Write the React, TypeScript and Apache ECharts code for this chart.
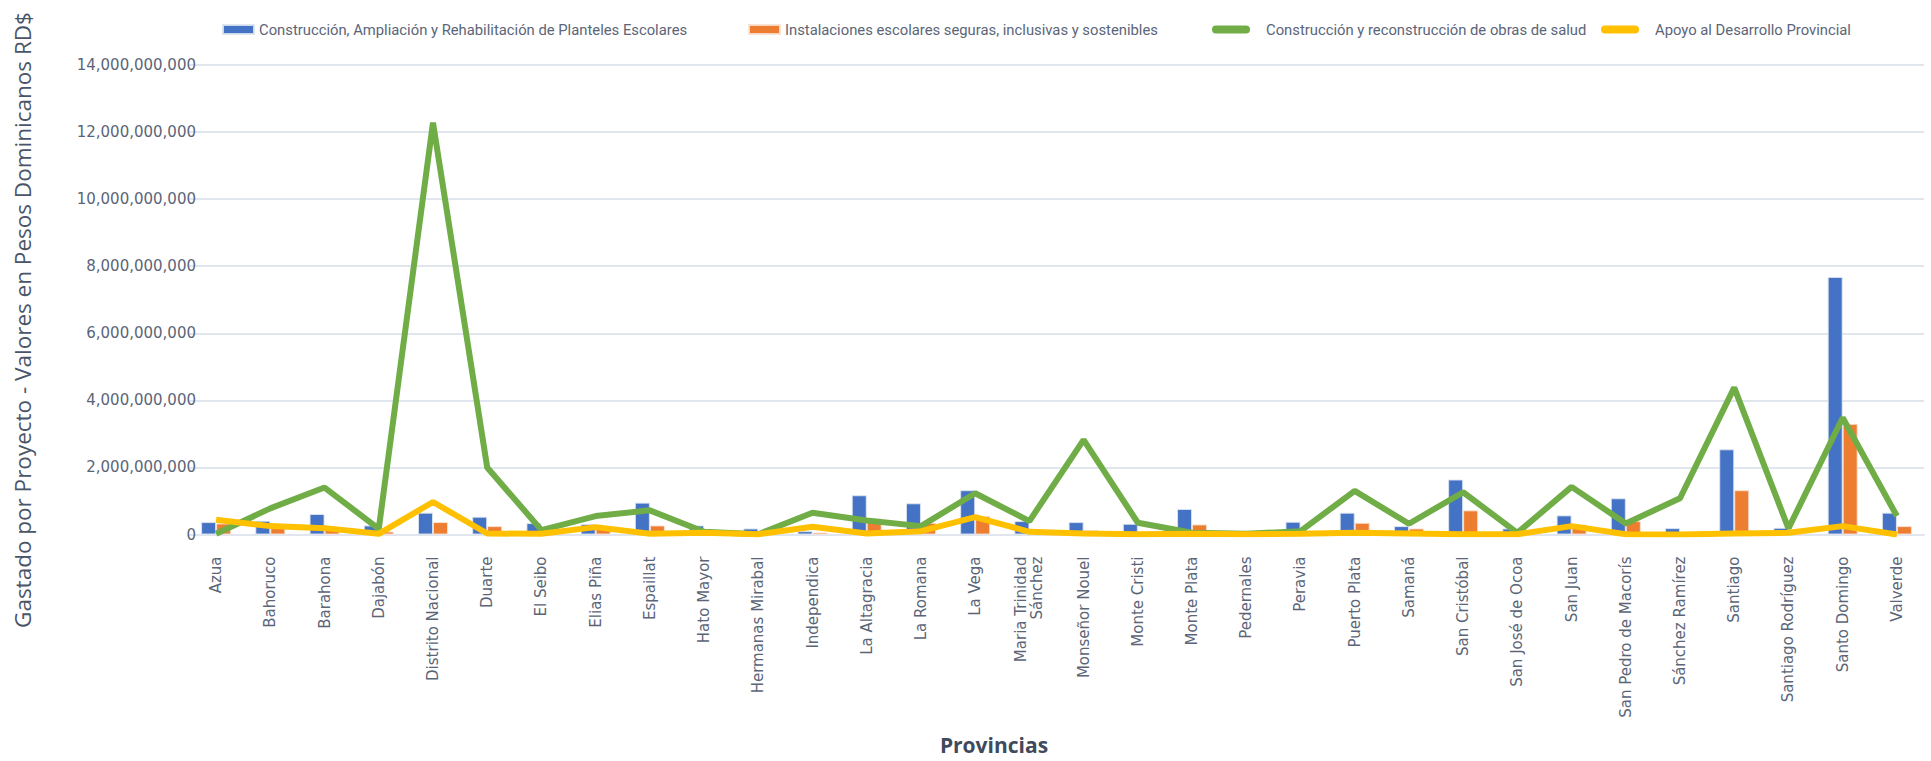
import React, { useEffect, useRef } from "react";
import * as echarts from "echarts";

const categories = [
  "Azua", "Bahoruco", "Barahona", "Dajabón", "Distrito Nacional", "Duarte", "El Seibo", "Elias Piña",
  "Espaillat", "Hato Mayor", "Hermanas Mirabal", "Independica", "La Altagracia", "La Romana", "La Vega",
  "Maria Trinidad\nSánchez", "Monseñor Nouel", "Monte Cristi", "Monte Plata", "Pedernales", "Peravia",
  "Puerto Plata", "Samaná", "San Cristóbal", "San José de Ocoa", "San Juan", "San Pedro de Macorís",
  "Sánchez Ramírez", "Santiago", "Santiago Rodríguez", "Santo Domingo", "Valverde",
];

const seriesNames = [
  "Construcción, Ampliación y Rehabilitación de Planteles Escolares",
  "Instalaciones escolares seguras, inclusivas y sostenibles",
  "Construcción y reconstrucción de obras de salud",
  "Apoyo al Desarrollo Provincial",
];

const planteles = [
  370e6, 410e6, 610e6, 270e6, 650e6, 530e6, 340e6, 310e6, 950e6, 270e6, 180e6, 100e6, 1170e6, 930e6, 1320e6,
  400e6, 370e6, 320e6, 760e6, 10e6, 380e6, 650e6, 250e6, 1640e6, 180e6, 570e6, 1080e6, 190e6, 2540e6, 200e6,
  7680e6, 650e6,
];
const instalaciones = [
  330e6, 250e6, 160e6, 90e6, 370e6, 250e6, 50e6, 170e6, 270e6, 40e6, 10e6, 60e6, 470e6, 350e6, 550e6,
  50e6, 130e6, 20e6, 300e6, 0, 30e6, 350e6, 180e6, 720e6, 20e6, 300e6, 400e6, 0, 1320e6, 10e6,
  3300e6, 250e6,
];
const salud = [
  20e6, 780e6, 1400e6, 170e6, 12280e6, 2000e6, 130e6, 550e6, 720e6, 80e6, 10e6, 650e6, 420e6, 250e6, 1230e6,
  400e6, 2820e6, 350e6, 50e6, 20e6, 100e6, 1300e6, 320e6, 1260e6, 50e6, 1420e6, 330e6, 1080e6, 4380e6, 180e6,
  3480e6, 550e6,
];
const desarrollo = [
  440e6, 250e6, 190e6, 20e6, 970e6, 30e6, 20e6, 220e6, 20e6, 50e6, 10e6, 230e6, 30e6, 100e6, 520e6,
  80e6, 30e6, 10e6, 20e6, 10e6, 20e6, 50e6, 30e6, 10e6, 10e6, 250e6, 10e6, 0, 30e6, 50e6,
  250e6, 0,
];

const yTicks = { min: 0, max: 14000000000, interval: 2000000000 };

const COLORS = ["#4472C4", "#ED7D31", "#70AD47", "#FFC000"];
const capsule = "path://M4,0 H34 A4,4 0 0 1 34,8 H4 A4,4 0 0 1 4,0 Z";

export default function App() {
  const ref = useRef<HTMLDivElement>(null);
  useEffect(() => {
    if (!ref.current) return;
    const chart = echarts.init(ref.current, null, { renderer: "svg" });
    const legendText = { color: "#5b6578", fontFamily: "Roboto", fontSize: 14.8 };
    const legendBase = {
      top: 22,
      orient: "horizontal",
      selectedMode: false,
      itemGap: 0,
      padding: 0,
      textStyle: legendText,
    };
    chart.setOption({
      animation: false,
      backgroundColor: "#ffffff",
      color: COLORS,
      grid: { left: 189, right: 7, top: 65, bottom: 226.5, containLabel: false },
      legend: [
        { ...legendBase, left: 222, itemWidth: 31, itemHeight: 9, data: [{ name: seriesNames[0], icon: "rect" }] },
        { ...legendBase, left: 748, itemWidth: 31, itemHeight: 9, data: [{ name: seriesNames[1], icon: "rect" }] },
        {
          ...legendBase, left: 1212, itemWidth: 38, itemHeight: 9,
          textStyle: { ...legendText, padding: [0, 0, 0, 11] },
          data: [{ name: seriesNames[2], icon: capsule }],
        },
        {
          ...legendBase, left: 1601, itemWidth: 38, itemHeight: 9,
          textStyle: { ...legendText, padding: [0, 0, 0, 11] },
          data: [{ name: seriesNames[3], icon: capsule }],
        },
      ],
      xAxis: {
        type: "category",
        data: categories,
        axisTick: { show: false },
        axisLine: { show: true, lineStyle: { color: "#e1e6ee", width: 2 } },
        axisLabel: {
          rotate: 90,
          interval: 0,
          margin: 22,
          color: "#5b6578",
          fontFamily: "DejaVu Sans",
          fontSize: 15,
          lineHeight: 16,
        },
      },
      yAxis: {
        type: "value",
        min: yTicks.min,
        max: yTicks.max,
        interval: yTicks.interval,
        axisLine: { show: false },
        axisTick: { show: false },
        splitLine: { lineStyle: { color: "#e1e6ee", width: 2 } },
        axisLabel: {
          margin: -7,
          color: "#5b6578",
          fontFamily: "DejaVu Sans",
          fontSize: 15,
          formatter: (v: number) => v.toLocaleString("en-US"),
        },
      },
      graphic: [
        {
          type: "text",
          x: 22,
          y: 320,
          rotation: Math.PI / 2,
          style: {
            text: "Gastado por Proyecto - Valores en Pesos Dominicanos RD$",
            fill: "#4a5568",
            font: '22.5px "Open Sans"',
            textAlign: "center",
            textVerticalAlign: "middle",
          },
        },
        {
          type: "text",
          x: 994,
          y: 745,
          style: {
            text: "Provincias",
            fill: "#3f4a5c",
            font: 'bold 21px "Open Sans"',
            textAlign: "center",
            textVerticalAlign: "middle",
          },
        },
      ],
      series: [
        {
          name: seriesNames[0], type: "bar", data: planteles, barWidth: 15, barGap: "0%",
          itemStyle: { color: COLORS[0], borderColor: "rgba(220,228,240,0.9)", borderWidth: 1 },
        },
        {
          name: seriesNames[1], type: "bar", data: instalaciones, barWidth: 15, barGap: "0%",
          itemStyle: { color: COLORS[1], borderColor: "rgba(250,225,210,0.9)", borderWidth: 1 },
        },
        {
          name: seriesNames[2], type: "line", data: salud, symbol: "none",
          lineStyle: { color: COLORS[2], width: 6 }, itemStyle: { color: COLORS[2] },
        },
        {
          name: seriesNames[3], type: "line", data: desarrollo, symbol: "none",
          lineStyle: { color: COLORS[3], width: 6 }, itemStyle: { color: COLORS[3] },
        },
      ],
    });
    return () => chart.dispose();
  }, []);
  return (
    <div
      ref={ref}
      style={{ position: "fixed", left: 0, top: 0, width: 1931, height: 761, background: "#fff" }}
    />
  );
}
